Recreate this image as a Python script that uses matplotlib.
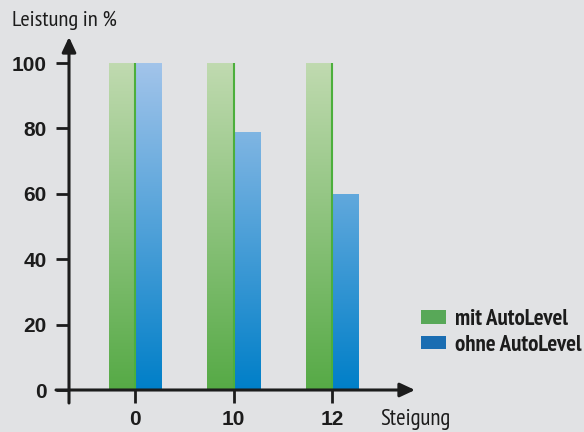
import numpy as np
import matplotlib
matplotlib.use('Agg')
import matplotlib.pyplot as plt
from matplotlib import font_manager as fm
from matplotlib.colors import LinearSegmentedColormap
from matplotlib.patches import Rectangle

# ---- data ----
categories = ['0', '10', '12']
mit_autolevel = [100, 100, 100]
ohne_autolevel = [100, 79, 60]
y_ticks = [0, 20, 40, 60, 80, 100]
series_labels = ['mit AutoLevel', 'ohne AutoLevel']
y_title = 'Leistung in %'
x_title = 'Steigung'

# ---- style ----
BG = '#e1e2e4'
INK = '#1c1c1c'
GREEN_TOP, GREEN_BOT = (192/255, 218/255, 176/255), (86/255, 170/255, 70/255)
BLUE_TOP, BLUE_BOT = (162/255, 196/255, 234/255), (0/255, 127/255, 200/255)
GREEN_EDGE = '#4caf3c'
LEG_GREEN, LEG_BLUE = '#58a858', '#1a6db2'

names = {f.name for f in fm.fontManager.ttflist}
NARROW = 'PT Sans Narrow' if 'PT Sans Narrow' in names else 'DejaVu Sans'
BOLDF = 'Liberation Sans' if 'Liberation Sans' in names else 'DejaVu Sans'

W, H = 584, 432
fig = plt.figure(figsize=(W / 100, H / 100), dpi=100, facecolor=BG)
ax_l, ax_r, ax_b, ax_t = 69, 415, 390, 37
ax = fig.add_axes([ax_l / W, 1 - ax_b / H, (ax_r - ax_l) / W, (ax_b - ax_t) / H])
ax.set_facecolor('none')

x = np.arange(len(categories))
bw = 0.264
grad = np.linspace(0, 1, 256).reshape(-1, 1)
cmaps = [LinearSegmentedColormap.from_list('g', [GREEN_BOT, GREEN_TOP]),
         LinearSegmentedColormap.from_list('b', [BLUE_BOT, BLUE_TOP])]
series = [mit_autolevel, ohne_autolevel]
offsets = [-bw / 2, bw / 2]
ymax = max(y_ticks)
for vals, off, cm in zip(series, offsets, cmaps):
    bars = ax.bar(x + off, vals, width=bw, color='none', edgecolor='none', zorder=2)
    for b in bars:
        x0 = b.get_x()
        im = ax.imshow(grad, cmap=cm, origin='lower', aspect='auto',
                       extent=[x0, x0 + bw, 0, ymax], zorder=2, interpolation='bilinear')
        im.set_clip_path(b)
for xi, v in zip(x, mit_autolevel):
    ax.plot([xi, xi], [0, v], color=GREEN_EDGE, lw=1.5, zorder=3, solid_capstyle='butt')

ax.set_xlim(-(135 - ax_l) / 98.5, (ax_r - 135) / 98.5)
ax.set_ylim(0, (ax_b - ax_t) / ((ax_b - 63) / ymax))

for s in ax.spines.values():
    s.set_visible(False)
ax.set_xticks(x)
ax.set_xticklabels(categories)
ax.set_yticks(y_ticks)
ax.set_yticklabels([str(v) for v in y_ticks])
ax.tick_params(axis='both', length=9.4, width=2.0, color=INK, direction='out')
ax.tick_params(axis='x', pad=5)
ax.tick_params(axis='y', pad=6.5)
for lab in ax.get_xticklabels() + ax.get_yticklabels():
    lab.set_fontfamily(BOLDF)
    lab.set_fontweight('bold')
    lab.set_fontsize(15)
    lab.set_color(INK)

# axes with arrows
ext_y = 13 / (ax_b - ax_t)
ext_x = 13 / (ax_r - ax_l)
arrow = dict(arrowstyle='-|>,head_length=0.9,head_width=0.42', color=INK, lw=2.2,
             shrinkA=0, shrinkB=0, mutation_scale=10)
ax.annotate('', xy=(0, 1), xycoords='axes fraction', xytext=(0, -ext_y),
            textcoords='axes fraction', arrowprops=arrow, annotation_clip=False)
ax.annotate('', xy=(1, 0), xycoords='axes fraction', xytext=(-ext_x, 0),
            textcoords='axes fraction', arrowprops=arrow, annotation_clip=False)

fig.text(12 / W, 1 - 26 / H, y_title, family=NARROW, fontsize=16.2,
         color=INK, va='baseline', ha='left')
fig.text(380 / W, 1 - 425 / H, x_title, family=NARROW, fontsize=16.4,
         color=INK, va='baseline', ha='left')

handles = [Rectangle((0, 0), 1, 1, fc=LEG_GREEN, ec='none'),
           Rectangle((0, 0), 1, 1, fc=LEG_BLUE, ec='none')]
fs = 16.5
fspx = fs * 100 / 72
leg = fig.legend(handles, series_labels, loc='upper left',
                 bbox_to_anchor=(421 / W, 1 - 309 / H), frameon=False,
                 borderpad=0, borderaxespad=0, handlelength=25 / fspx,
                 handleheight=12 / fspx, handletextpad=9 / fspx,
                 labelspacing=0.2,
                 prop=dict(family=NARROW, weight='bold', size=fs))
for t in leg.get_texts():
    t.set_color(INK)

fig.savefig('out.png', dpi=100, facecolor=BG)
